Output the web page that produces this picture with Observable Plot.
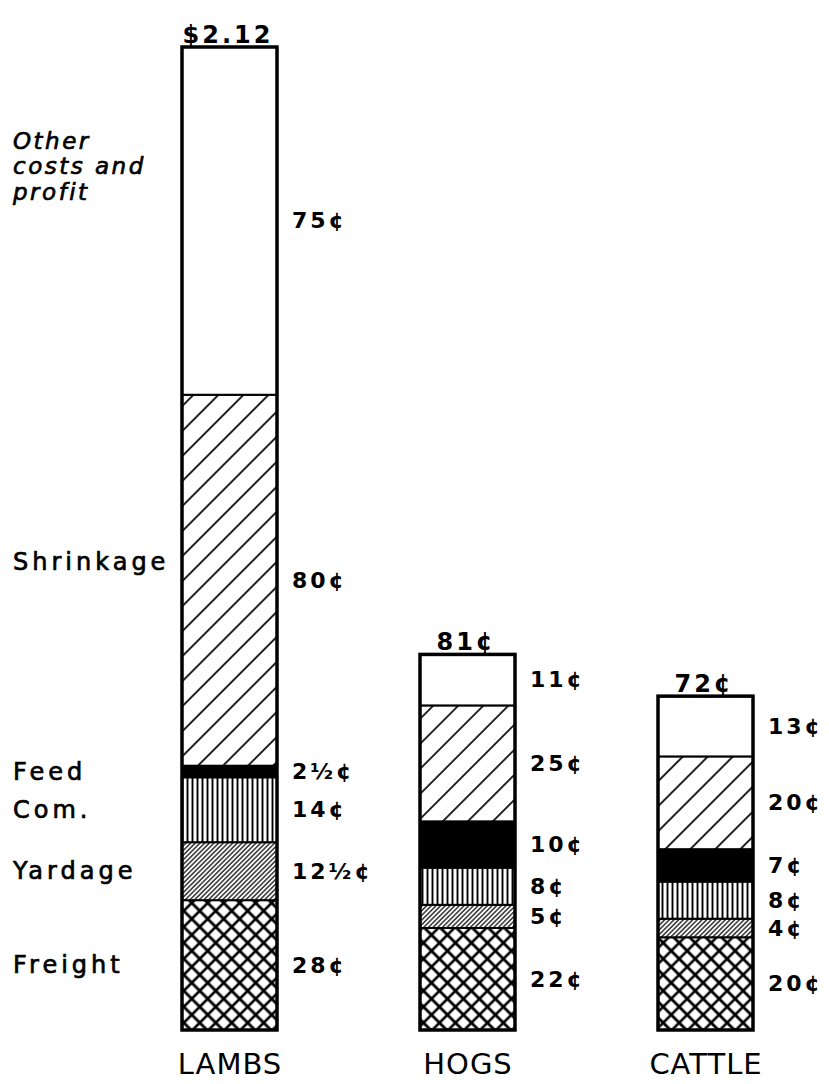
<!DOCTYPE html>
<html>
<head>
<meta charset="utf-8">
<script src="https://cdn.jsdelivr.net/npm/d3@7"></script>
<script src="https://cdn.jsdelivr.net/npm/@observablehq/plot@0.6"></script>
<style>
  html, body { margin: 0; padding: 0; background: #fff; }
  #chart svg { display: block; }
</style>
</head>
<body>
<div id="chart"></div>
<script>
// ---- data ----
const categories = ["LAMBS", "HOGS", "CATTLE"];
const segments = ["Freight", "Yardage", "Commission", "Feed", "Shrinkage", "Other costs and profit"];
const segmentNames = ["Freight", "Yardage", "Com.", "Feed", "Shrinkage", "Other\ncosts and\nprofit"];
const lambs = [28, 12.5, 14, 2.5, 80, 75];
const hogs = [22, 5, 8, 10, 25, 11];
const cattle = [20, 4, 8, 7, 20, 13];
const totalLabels = ["$2.12", "81¢", "72¢"];
const segmentFills = ["url(#p-freight)", "url(#p-yardage)", "url(#p-com)", "black", "url(#p-shrink)", "white"];

const series = [lambs, hogs, cattle];
const rows = categories.flatMap((cat, i) =>
  series[i].map((v, j) => ({cat, seg: segments[j], j, value: v})));
const totals = categories.map((cat, i) => ({cat, total: d3.sum(series[i]), label: totalLabels[i]}));
const cents = v => `${Math.floor(v)}${v % 1 ? "½" : ""}¢`;
const FONT = "DejaVu Sans, Verdana, sans-serif";

const leftLabel = (js) => d => (d.cat === categories[0] && js.includes(d.j)) ? segmentNames[d.j] : null;

const svg = Plot.plot({
  width: 829,
  height: 1084,
  marginTop: 47,
  marginBottom: 54,
  marginLeft: 110,
  marginRight: 3,
  x: {domain: categories, paddingInner: 0.6, paddingOuter: 0.3, label: null},
  y: {domain: [0, d3.max(totals, d => d.total)], axis: null},
  color: {type: "identity"},
  style: {fontFamily: FONT, background: "white", color: "black", overflow: "visible"},
  marks: [
    Plot.barY(rows, Plot.stackY({
      x: "cat", y: "value",
      fill: d => segmentFills[d.j],
      stroke: "black", strokeWidth: 2
    })),
    Plot.barY(totals, {x: "cat", y: "total", fill: "none", stroke: "black", strokeWidth: 3.5}),
    Plot.text(rows, Plot.stackY({
      x: "cat", y: "value",
      text: d => cents(d.value),
      textAnchor: "start", dx: 62,
      fontSize: 22, fontWeight: "bold", fontFamily: FONT, fill: "black",
      ariaDescription: "value-labels"
    })),
    Plot.text(totals, {
      x: "cat", y: "total", text: "label",
      lineAnchor: "bottom", dy: -5, dx: -2,
      fontSize: 24, fontWeight: "bold", fontFamily: FONT, fill: "black",
      ariaDescription: "totals"
    }),
    Plot.text(rows, Plot.stackY({
      x: "cat", y: "value",
      text: leftLabel([0, 1, 2, 3]),
      textAnchor: "start", dx: -217,
      fontSize: 24, fontFamily: FONT, fill: "black", stroke: "black", strokeWidth: 0.7,
      ariaDescription: "left-labels"
    })),
    Plot.text(rows, Plot.stackY({
      x: "cat", y: "value",
      text: leftLabel([4]),
      textAnchor: "start", dx: -217, dy: -18,
      fontSize: 24, fontFamily: FONT, fill: "black", stroke: "black", strokeWidth: 0.7,
      ariaDescription: "left-labels"
    })),
    Plot.text(rows, Plot.stackY({
      x: "cat", y: "value",
      text: leftLabel([5]),
      textAnchor: "start", dx: -217, dy: -55, lineHeight: 1.1,
      fontSize: 23, fontStyle: "italic", fontFamily: FONT, fill: "black", stroke: "black", strokeWidth: 0.7,
      ariaDescription: "left-labels-other"
    })),
    Plot.axisX({tickSize: 0, tickPadding: 23, fontSize: 29, label: null})
  ]
});

// letter spacing, to mimic the hand lettering
const sel = d3.select(svg);
sel.selectAll('g[aria-description="value-labels"] text').style("letter-spacing", "3px");
sel.selectAll('g[aria-description="totals"] text').style("letter-spacing", "3px");
sel.selectAll('g[aria-description="left-labels"] text').style("letter-spacing", "4px");
sel.selectAll('g[aria-description="left-labels-other"] text').style("letter-spacing", "2.5px");
sel.selectAll('g[aria-label="x-axis tick label"] text').style("letter-spacing", "1px");

// hatch patterns used as fills
const defs = sel.insert("defs", ":first-child");
function pattern(id, w, h, rot, d, sw) {
  const p = defs.append("pattern")
    .attr("id", id).attr("patternUnits", "userSpaceOnUse")
    .attr("width", w).attr("height", h);
  if (rot) p.attr("patternTransform", `rotate(${rot})`);
  p.append("rect").attr("width", w).attr("height", h).attr("fill", "white");
  p.append("path").attr("d", d).attr("stroke", "black").attr("stroke-width", sw).attr("fill", "none");
}
pattern("p-freight", 11.3, 11.3, 45, "M0,5.65H11.3M5.65,0V11.3", 2.6);
pattern("p-yardage", 3.3, 3.3, 45, "M1.65,0V3.3", 1.2);
pattern("p-com", 5, 10, 0, "M2.5,0V10", 1.9);
pattern("p-shrink", 17.7, 17.7, 45, "M8.85,0V17.7", 1.7);

document.getElementById("chart").appendChild(svg);
</script>
</body>
</html>
